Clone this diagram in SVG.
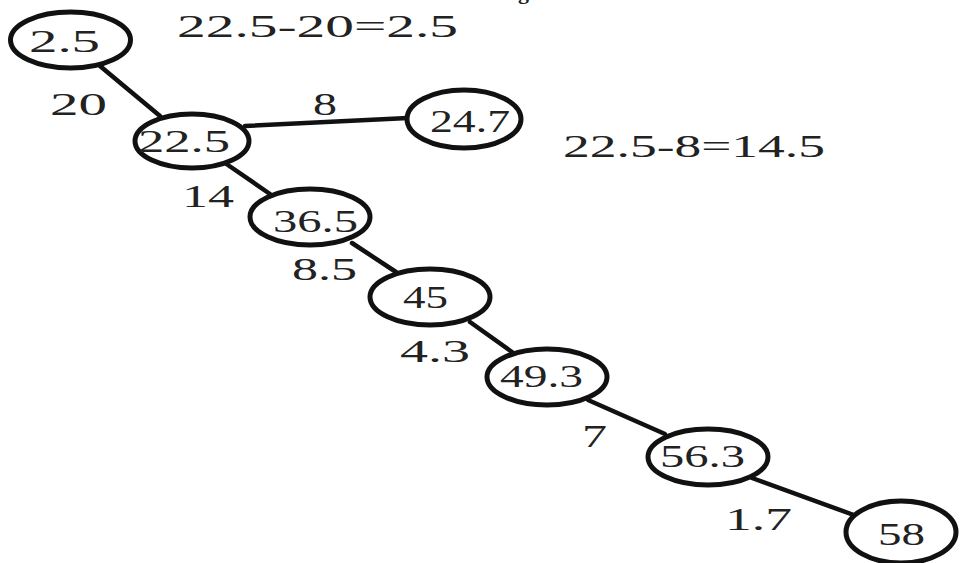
<svg xmlns="http://www.w3.org/2000/svg" width="960" height="563" viewBox="0 0 960 563">
<style>
.n{fill:#fff;stroke:#111;stroke-width:5}
.e{stroke:#111;stroke-width:4.5;fill:none;stroke-linecap:round}
text{font-family:"Liberation Serif","Times New Roman",serif;font-size:31px;fill:#222}
</style>
<rect width="960" height="563" fill="#fff"/>
<text x="518" y="-1" style="font-size:22px;font-weight:bold" fill="#111">g</text>
<g id="edges">
<line class="e" x1="100" y1="66" x2="160" y2="116"/>
<line class="e" x1="245" y1="126" x2="408" y2="118"/>
<line class="e" x1="225" y1="163" x2="270" y2="194"/>
<line class="e" x1="352" y1="243" x2="396" y2="272"/>
<line class="e" x1="470" y1="322" x2="512" y2="352"/>
<line class="e" x1="588" y1="400" x2="665" y2="434"/>
<line class="e" x1="752" y1="478" x2="862" y2="518"/>
</g>
<g id="n1"><ellipse class="n" cx="70.5" cy="40" rx="60" ry="28"/><text x="29" y="52" textLength="71" lengthAdjust="spacingAndGlyphs">2.5</text></g>
<g id="n2"><ellipse class="n" cx="192" cy="141" rx="57" ry="27"/><text x="138" y="152" textLength="92" lengthAdjust="spacingAndGlyphs">22.5</text></g>
<g id="n3"><ellipse class="n" cx="464" cy="119" rx="57" ry="29"/><text x="430" y="132" textLength="80" lengthAdjust="spacingAndGlyphs">24.7</text></g>
<g id="n4"><ellipse class="n" cx="310" cy="217" rx="60" ry="28"/><text x="273" y="232" textLength="85" lengthAdjust="spacingAndGlyphs">36.5</text></g>
<g id="n5"><ellipse class="n" cx="430" cy="297" rx="60" ry="28"/><text x="403" y="308" textLength="45" lengthAdjust="spacingAndGlyphs">45</text></g>
<g id="n6"><ellipse class="n" cx="547" cy="377" rx="60" ry="28"/><text x="500" y="387" textLength="83" lengthAdjust="spacingAndGlyphs">49.3</text></g>
<g id="n7"><ellipse class="n" cx="708" cy="457" rx="60" ry="28"/><text x="660" y="467" textLength="85" lengthAdjust="spacingAndGlyphs">56.3</text></g>
<g id="n8"><ellipse class="n" cx="901" cy="532" rx="55" ry="31"/><text x="878" y="545" textLength="47" lengthAdjust="spacingAndGlyphs">58</text></g>
<g id="labels">
<text x="177" y="37" textLength="281" lengthAdjust="spacingAndGlyphs">22.5-20=2.5</text>
<text x="563" y="157" textLength="262" lengthAdjust="spacingAndGlyphs">22.5-8=14.5</text>
<text x="50" y="115" textLength="57" lengthAdjust="spacingAndGlyphs">20</text>
<text x="313" y="115" textLength="24" lengthAdjust="spacingAndGlyphs">8</text>
<text x="182" y="207" textLength="52" lengthAdjust="spacingAndGlyphs">14</text>
<text x="292" y="280" textLength="65" lengthAdjust="spacingAndGlyphs">8.5</text>
<text x="400" y="362" textLength="70" lengthAdjust="spacingAndGlyphs">4.3</text>
<text x="582" y="447" textLength="25" lengthAdjust="spacingAndGlyphs">7</text>
<text x="725" y="530" textLength="67" lengthAdjust="spacingAndGlyphs">1.7</text>
</g>
</svg>
